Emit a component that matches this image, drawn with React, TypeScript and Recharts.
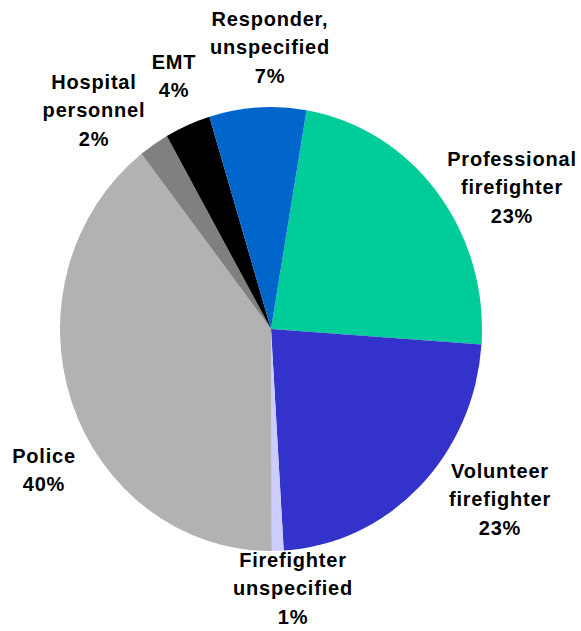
import { Cell, Pie, PieChart } from "recharts";

// slices clockwise from just right of 12 o'clock
const categories = [
  "Professional firefighter",
  "Volunteer firefighter",
  "Firefighter unspecified",
  "Police",
  "Hospital personnel",
  "EMT",
  "Responder, unspecified",
];
const shares = [23.4, 22.9, 0.9, 39.5, 2.3, 3.5, 7.4];
const labelLines = [
  ["Professional", "firefighter"],
  ["Volunteer", "firefighter"],
  ["Firefighter", "unspecified"],
  ["Police"],
  ["Hospital", "personnel"],
  ["EMT"],
  ["Responder,", "unspecified"],
];

const colors = ["#00CC99", "#3333CC", "#CCCCFF", "#B2B2B2", "#808080", "#000000", "#0066CC"];
// where each label block sits on the page, relative to the pie centre (x centre, first baseline)
const labelOffsets = [
  [241, -163],
  [229, 149],
  [22, 238],
  [-227, 134],
  [-177, -240],
  [-97, -260],
  [-1, -303],
];
const LINE = 28.5;
// the source pie is a touch taller than wide
const CX = 271;
const CY = 329;
const RX = 211;
const STRETCH = 222 / 211;

const rows = categories.map((name, i) => ({ name, value: shares[i] }));

function renderLabel(props: any) {
  const { cx, cy, percent } = props;
  let i = props.index;
  if (i == null) i = categories.indexOf(props.name ?? props.payload?.name);
  const [dx, dy] = labelOffsets[i];
  const lines = [...labelLines[i], `${Math.round(percent * 100)}%`];
  return (
    <text
      key={`lbl-${i}`}
      x={cx + dx}
      y={cy + dy / STRETCH}
      textAnchor="middle"
      fill="#000"
      style={{ fontFamily: "'Liberation Sans', Arial, sans-serif", fontWeight: 700, fontSize: 20, letterSpacing: 0.8 }}
    >
      {lines.map((t, k) => (
        <tspan key={k} x={cx + dx} y={cy + (dy + k * LINE) / STRETCH}>
          {t}
        </tspan>
      ))}
    </text>
  );
}

export default function App() {
  return (
    <div
      style={{
        position: "absolute",
        left: 0,
        top: 0,
        width: 581,
        height: 631,
        background: "#fff",
        overflow: "hidden",
      }}
    >
      <div style={{ transform: `scaleY(${STRETCH})`, transformOrigin: `0 ${CY}px` }}>
        <PieChart width={581} height={631} margin={{ top: 0, right: 0, bottom: 0, left: 0 }}>
          <Pie
            data={rows}
            dataKey="value"
            nameKey="name"
            cx={CX}
            cy={CY}
            outerRadius={RX}
            startAngle={80.3}
            endAngle={-279.7}
            stroke="none"
            label={renderLabel}
            labelLine={false}
            isAnimationActive={false}
          >
            {rows.map((r, i) => (
              <Cell key={r.name} fill={colors[i]} />
            ))}
          </Pie>
        </PieChart>
      </div>
    </div>
  );
}
